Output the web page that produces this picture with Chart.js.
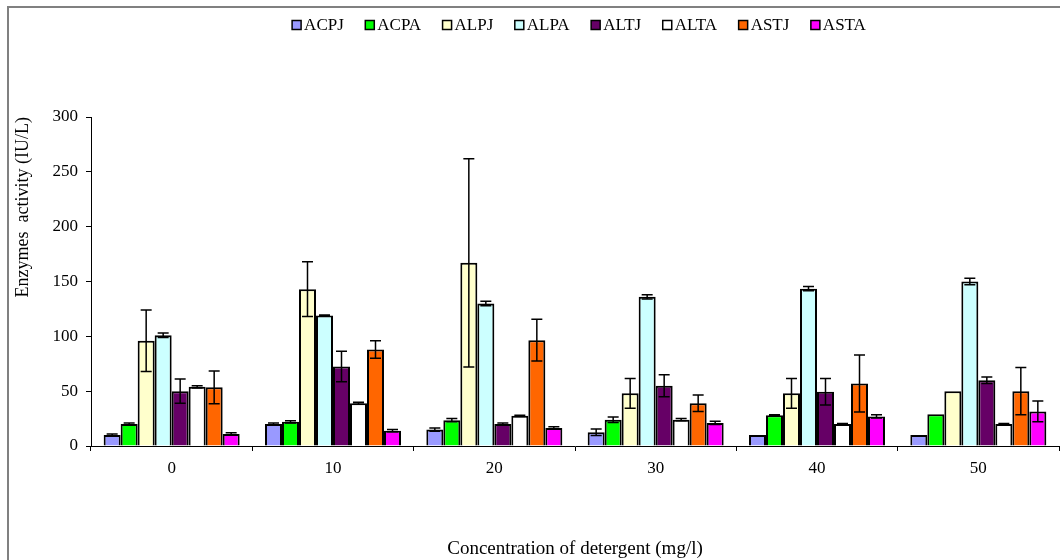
<!DOCTYPE html>
<html>
<head>
<meta charset="utf-8">
<script src="https://cdn.jsdelivr.net/npm/chart.js@4"></script>
<style>
body{margin:0;background:#fff}
canvas{display:block}
</style>
</head>
<body>
<canvas id="enzymes" width="1060" height="560"></canvas>
<script>
/* =========================
   DATA
========================= */

const concentrations = ["0","10","20","30","40","50"]
const seriesNames = ["ACPJ","ACPA","ALPJ","ALPA","ALTJ","ALTA","ASTJ","ASTA"]
const seriesColors = ["#9999ff","#00ff00","#ffffcc","#ccffff","#660066","#ffffff","#ff6600","#ff00ff"]

const acpj = [10,20,15,12.5,10,10]
const acpa = [20,22,23.5,24,28,29]
const alpj = [96,143,167,48,48,50]
const alpa = [101,119,130,136,143.5,150]
const altj = [50,72.5,20,55,49.5,60]
const alta = [54,39,27.5,24,20,20]
const astj = [53.5,88,96.5,39,57,50]
const asta = [11,14,16.5,21,27,31.5]

const acpjErr = [1,1,1.5,3,0,0]
const acpaErr = [1,1,1.5,2.5,0.5,0]
const alpjErr = [28,25,95,13.5,13.5,0]
const alpaErr = [2,0.5,2,2,2,3]
const altjErr = [11,14,1,10,12,3]
const altaErr = [1,1,0.5,1,0.5,0.5]
const astjErr = [15,8,19,7.5,26,21.5]
const astaErr = [1,1,1,1.5,1.5,9.5]

const yTicks = [0,50,100,150,200,250,300]

const values = [acpj,acpa,alpj,alpa,altj,alta,astj,asta]
const errors = [acpjErr,acpaErr,alpjErr,alpaErr,altjErr,altaErr,astjErr,astaErr]

const serif = "'Liberation Serif','Times New Roman',serif"

/* =========================
   PLUGINS
========================= */

/* error bars drawn from the y scale */

const errorBars = {
id:"errorBars",
afterDatasetsDraw(chart){
const ctx = chart.ctx
const y = chart.scales.y
ctx.save()
ctx.strokeStyle = "#000"
ctx.lineWidth = 1.5
chart.data.datasets.forEach((ds,i)=>{
const meta = chart.getDatasetMeta(i)
meta.data.forEach((bar,j)=>{
const e = errors[i][j]
if(!e) return
const top = y.getPixelForValue(ds.data[j]+e)
const bot = y.getPixelForValue(ds.data[j]-e)
ctx.beginPath()
ctx.moveTo(bar.x,top)
ctx.lineTo(bar.x,bot)
ctx.moveTo(bar.x-5.5,top)
ctx.lineTo(bar.x+5.5,top)
ctx.moveTo(bar.x-5.5,bot)
ctx.lineTo(bar.x+5.5,bot)
ctx.stroke()
})
})
ctx.restore()
}
}

/* grey frame on top and left */

const frame = {
id:"frame",
beforeDraw(chart){
const ctx = chart.ctx
ctx.save()
ctx.fillStyle = "#fff"
ctx.fillRect(0,0,chart.width,chart.height)
ctx.strokeStyle = "#808080"
ctx.lineWidth = 2
ctx.beginPath()
ctx.moveTo(8,chart.height)
ctx.lineTo(8,7)
ctx.lineTo(chart.width,7)
ctx.stroke()
ctx.restore()
}
}

/* legend row, tight box-to-text gap like the original */

const legendRow = {
id:"legendRow",
afterDraw(chart){
const ctx = chart.ctx
const area = chart.chartArea
ctx.save()
ctx.font = "17px " + serif
ctx.textBaseline = "middle"
const box = 9, gap = 3, pad = 21.5, cy = 25
const widths = chart.data.datasets.map(ds=>ctx.measureText(ds.label).width)
let total = widths.reduce((a,w)=>a+box+gap+w,0) + pad*(widths.length-1)
let x = (area.left+area.right)/2 + 4 - total/2
chart.data.datasets.forEach((ds,i)=>{
ctx.fillStyle = ds.backgroundColor
ctx.fillRect(x,cy-box/2,box,box)
ctx.strokeStyle = "#000"
ctx.lineWidth = 1.5
ctx.strokeRect(x,cy-box/2,box,box)
ctx.fillStyle = "#000"
ctx.fillText(ds.label,x+box+gap,cy+1)
x += box+gap+widths[i]+pad
})
ctx.restore()
}
}

/* =========================
   CHART
========================= */

new Chart(document.getElementById("enzymes"),{

type:"bar",

data:{
labels:concentrations,
datasets:seriesNames.map((name,i)=>({
label:name,
data:values[i],
backgroundColor:seriesColors[i],
borderColor:"#000",
borderWidth:2,
categoryPercentage:0.843,
barPercentage:1
}))
},

options:{
responsive:false,
animation:false,
devicePixelRatio:1,
layout:{padding:{left:10,right:1,top:117,bottom:0}},
plugins:{
legend:{display:false},
tooltip:{enabled:false}
},
scales:{
x:{
afterFit(scale){ scale.height = 114 },
border:{color:"#000",width:1},
grid:{drawOnChartArea:false,offset:true,color:"#000",tickLength:5},
ticks:{color:"#000",padding:7,font:{family:serif,size:17}},
title:{display:true,text:"Concentration of detergent (mg/l)",color:"#000",
font:{family:serif,size:19},padding:{top:0,bottom:0}}
},
y:{
min:0,
max:300,
afterFit(scale){ scale.width = 81 },
afterBuildTicks(scale){ scale.ticks = yTicks.map(v=>({value:v})) },
border:{color:"#000",width:1},
grid:{drawOnChartArea:false,color:"#000",tickLength:5},
ticks:{color:"#000",padding:8,font:{family:serif,size:17}},
title:{display:true,text:"Enzymes  activity (IU/L)",align:"end",color:"#000",
font:{family:serif,size:18},padding:{top:2,bottom:0}}
}
}
},

plugins:[frame,errorBars,legendRow]

})
</script>
</body>
</html>
